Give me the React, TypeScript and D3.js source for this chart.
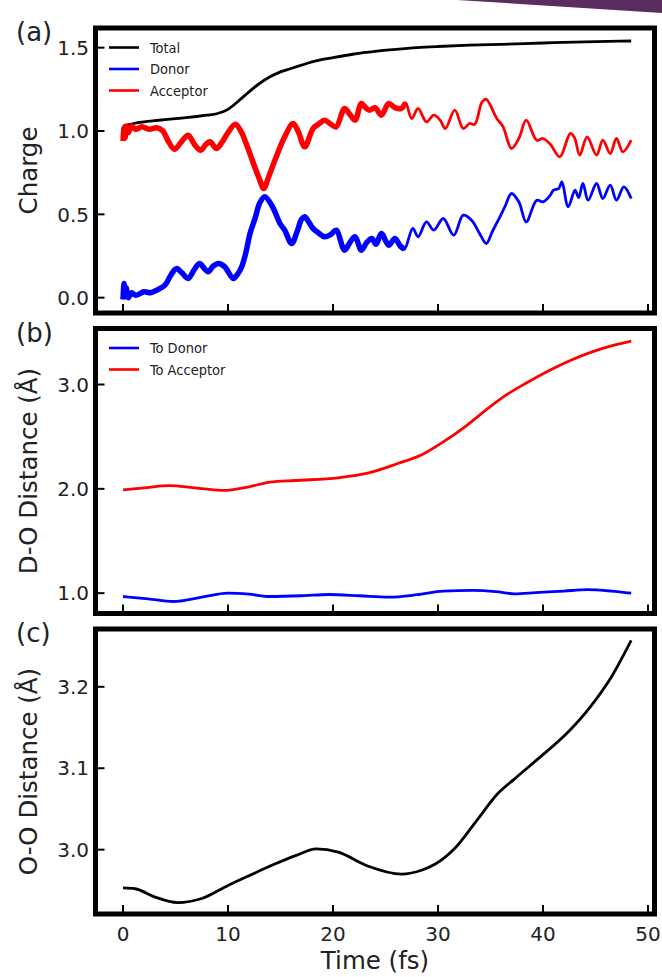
import * as d3 from "d3";

// ---- panel (a) charge ----
const totalT = [0, 1, 2, 3, 4, 5, 6, 7, 8, 9, 10, 11, 12, 13, 14, 15, 16, 17, 18, 20, 22, 24, 26, 28, 30, 33, 36, 40, 44, 48.4];
const totalV = [1.03, 1.045, 1.055, 1.062, 1.068, 1.074, 1.08, 1.087, 1.095, 1.105, 1.13, 1.18, 1.235, 1.285, 1.325, 1.355, 1.375, 1.395, 1.415, 1.44, 1.462, 1.478, 1.49, 1.5, 1.507, 1.515, 1.52, 1.528, 1.535, 1.54];

const accT = [0, 0.1, 0.2, 0.3, 0.5, 0.8, 1.2, 1.8, 2.5, 3.2, 3.8, 4.3, 4.9, 5.5, 6.2, 6.8, 7.4, 7.9, 8.3, 8.9, 9.4, 10, 10.7, 11.3, 11.7, 12.4, 13, 13.4, 13.9, 14.5, 15.4, 16.2, 16.7, 17.3, 18.1, 18.6, 19.2, 19.8, 20.3, 21.1, 21.6, 22.1, 22.7, 23.1, 23.5, 24, 24.6, 25.3, 25.9, 26.5, 26.9, 27.5, 28.1, 28.9, 29.6, 30.2, 30.7, 31.6, 32.4, 33, 33.5, 34.2, 34.6, 35.6, 36.2, 37, 37.7, 38.4, 39.4, 40, 40.7, 41.6, 42.6, 43, 43.5, 44.2, 45.1, 45.7, 46.4, 47, 47.6, 48.4];
const accV = [0.94, 1.02, 0.96, 1.03, 0.99, 1.03, 1.01, 1.025, 1.01, 1.02, 1.0, 0.94, 0.89, 0.93, 0.975, 0.92, 0.885, 0.92, 0.935, 0.895, 0.93, 0.99, 1.04, 0.99, 0.93, 0.81, 0.71, 0.655, 0.73, 0.83, 0.965, 1.045, 0.995, 0.905, 1.015, 1.04, 1.065, 1.04, 1.025, 1.135, 1.1, 1.065, 1.165, 1.14, 1.125, 1.14, 1.095, 1.165, 1.14, 1.135, 1.17, 1.075, 1.135, 1.055, 1.095, 1.065, 1.015, 1.125, 1.015, 1.045, 1.04, 1.175, 1.19, 1.075, 1.025, 0.895, 0.955, 1.065, 0.945, 0.955, 0.92, 0.845, 0.985, 0.96, 0.855, 0.965, 0.855, 0.945, 0.865, 0.955, 0.875, 0.945];

const donT = [0, 0.1, 0.2, 0.3, 0.5, 0.8, 1.2, 2, 2.6, 3.2, 4, 4.6, 5.1, 5.6, 6.2, 6.8, 7.3, 7.8, 8.1, 8.6, 9.1, 9.7, 10.5, 10.9, 11.3, 11.7, 12.1, 12.6, 13, 13.5, 14.2, 14.95, 15.4, 16.06, 16.6, 17, 17.3, 18.1, 18.6, 19.2, 19.8, 20.3, 21.1, 21.6, 22.1, 22.7, 23.2, 23.7, 24.1, 24.6, 25.3, 25.9, 26.4, 26.8, 27.6, 28.1, 28.9, 29.6, 30.5, 31.5, 32.4, 33.2, 34, 34.6, 35.2, 35.9, 36.4, 37, 37.7, 38.4, 39.4, 40, 40.7, 41, 41.5, 41.8, 42.4, 43.05, 43.4, 43.8, 44.3, 45.1, 45.7, 46.4, 47, 47.7, 48.4];
const donV = [-0.01, 0.085, 0.01, 0.06, 0.0, 0.03, 0.015, 0.035, 0.03, 0.045, 0.075, 0.14, 0.175, 0.15, 0.115, 0.17, 0.205, 0.17, 0.155, 0.19, 0.205, 0.185, 0.115, 0.14, 0.185, 0.27, 0.385, 0.48, 0.565, 0.605, 0.55, 0.445, 0.405, 0.325, 0.4, 0.47, 0.485, 0.415, 0.39, 0.365, 0.38, 0.405, 0.285, 0.33, 0.365, 0.285, 0.33, 0.355, 0.32, 0.385, 0.315, 0.355, 0.31, 0.29, 0.415, 0.365, 0.455, 0.405, 0.475, 0.375, 0.495, 0.465, 0.38, 0.325, 0.4, 0.485, 0.55, 0.625, 0.575, 0.455, 0.585, 0.575, 0.615, 0.645, 0.655, 0.695, 0.545, 0.645, 0.6, 0.685, 0.585, 0.685, 0.595, 0.675, 0.585, 0.665, 0.595];

// ---- panel (b) D-O distance ----
const toAccT = [0, 2, 4.4, 6.8, 9.8, 12, 14, 16.4, 20.5, 23.3, 26.1, 28.5, 30.5, 32.5, 34.5, 36.5, 38.5, 40.6, 42.6, 44.6, 46.5, 48.4];
const toAccV = [1.99, 2.01, 2.03, 2.01, 1.985, 2.02, 2.064, 2.08, 2.106, 2.15, 2.24, 2.33, 2.45, 2.59, 2.75, 2.9, 3.02, 3.135, 3.23, 3.31, 3.37, 3.416];
const toDonT = [0, 2.4, 4.8, 7.4, 10, 12, 14, 17, 19.6, 22.5, 25.3, 28, 30.5, 33.3, 35.5, 37.3, 39.3, 42, 44.2, 46.5, 48.4];
const toDonV = [0.968, 0.945, 0.92, 0.96, 1.0, 0.99, 0.968, 0.975, 0.987, 0.975, 0.962, 0.985, 1.02, 1.026, 1.015, 0.994, 1.005, 1.02, 1.033, 1.02, 1.0];

// ---- panel (c) O-O distance ----
const ooT = [0, 1.15, 3, 5.2, 7.5, 10, 12, 14.4, 16.5, 18.4, 20.5, 23.3, 26.5, 28.5, 29.7, 31.7, 33.7, 35.7, 37.3, 39.75, 42.2, 44.6, 46.6, 48.4];
const ooV = [2.953, 2.952, 2.942, 2.935, 2.94, 2.956, 2.968, 2.982, 2.993, 3.001, 2.997, 2.98, 2.97, 2.975, 2.982, 3.003, 3.036, 3.069, 3.087, 3.114, 3.142, 3.177, 3.214, 3.257];

const xTicks = [0, 10, 20, 30, 40, 50];
const yTicksA = [0, 0.5, 1.0, 1.5];
const yTicksB = [1.0, 2.0, 3.0];
const yTicksC = [3.0, 3.1, 3.2];

const zip = (t: number[], v: number[]) => t.map((d, i) => [d, v[i]] as [number, number]);

const FONT = "DejaVu Sans, sans-serif";
const LEGEND_FONT = "DejaVu Sans Condensed, DejaVu Sans, sans-serif";

const left = 95.5;
const right = 654.5;
const x = d3.scaleLinear().domain([-2.62, 50.62]).range([left, right]);

type Series = { pts: [number, number][]; color: string; curve: d3.CurveFactory; heavyUntil?: number };

function Panel(props: {
  top: number;
  bottom: number;
  domain: [number, number];
  yTicks: number[];
  label: string;
  tag: string;
  series: Series[];
  legend: { name: string; color: string }[];
  showX: boolean;
}) {
  const { top, bottom, domain, yTicks, label, tag, series, legend, showX } = props;
  const y = d3.scaleLinear().domain(domain).range([bottom, top]);

  return (
    <g>
      {series.map((s, i) => {
        const line = d3.line<[number, number]>()
          .x((d) => x(d[0]))
          .y((d) => y(d[1]))
          .curve(s.curve);
        return (
          <g key={i}>
            <path d={line(s.pts) ?? ""} fill="none" stroke={s.color} strokeWidth={2.8} strokeLinejoin="round" />
            {s.heavyUntil !== undefined && (
              // raw trace jitters a lot early on, so it reads thicker there
              <path
                d={line(s.pts.filter((d) => d[0] <= s.heavyUntil!)) ?? ""}
                fill="none"
                stroke={s.color}
                strokeWidth={5.5}
                strokeLinejoin="round"
              />
            )}
          </g>
        );
      })}

      {legend.map((l, i) => (
        <g key={l.name} transform={`translate(0, ${top + 19.5 + i * 21.5})`}>
          <line x1={109} x2={139} y1={0} y2={0} stroke={l.color} strokeWidth={2.6} />
          <text x={150} y={0} dy="0.36em" fontFamily={LEGEND_FONT} fontSize={14.5} fill="#222">
            {l.name}
          </text>
        </g>
      ))}

      {/* ticks */}
      {xTicks.map((v) => (
        <line key={"x" + v} x1={x(v)} x2={x(v)} y1={bottom} y2={bottom - 9} stroke="#000" strokeWidth={2} />
      ))}
      {yTicks.map((v) => (
        <g key={"y" + v}>
          <line x1={left} x2={left + 9} y1={y(v)} y2={y(v)} stroke="#000" strokeWidth={2} />
          <text x={89} y={y(v)} dy="0.36em" textAnchor="end" fontFamily={FONT} fontSize={20} fill="#222">
            {v.toFixed(1)}
          </text>
        </g>
      ))}
      {showX &&
        xTicks.map((v) => (
          <text key={"xl" + v} x={x(v)} y={941} textAnchor="middle" fontFamily={FONT} fontSize={20} fill="#222">
            {v}
          </text>
        ))}

      {/* frame */}
      <rect x={left} y={top} width={right - left} height={bottom - top} fill="none" stroke="#000" strokeWidth={5} />

      <text
        transform={`translate(37, ${(top + bottom) / 2}) rotate(-90)`}
        textAnchor="middle"
        fontFamily={FONT}
        fontSize={24.5}
        fill="#222"
      >
        {label}
      </text>
      <text x={16} y={top + 13} fontFamily={FONT} fontSize={26} fill="#222">
        {tag}
      </text>
    </g>
  );
}

export default function App() {
  const width = 662;
  const height = 977;
  const jitter = d3.curveCatmullRom.alpha(0.5);

  return (
    <svg width={width} height={height} style={{ position: "absolute", left: 0, top: 0, background: "#fff" }}>
      <rect width={width} height={height} fill="#fff" />
      <polygon points="457,0 662,0 662,13" fill="#5b2c5f" />

      <Panel
        top={28}
        bottom={313}
        domain={[-0.092, 1.618]}
        yTicks={yTicksA}
        label="Charge"
        tag="(a)"
        showX={false}
        series={[
          { pts: zip(totalT, totalV), color: "#000", curve: d3.curveMonotoneX },
          { pts: zip(donT, donV), color: "#0000ff", curve: jitter, heavyUntil: 27 },
          { pts: zip(accT, accV), color: "#ff0000", curve: jitter, heavyUntil: 27 },
        ]}
        legend={[
          { name: "Total", color: "#000" },
          { name: "Donor", color: "#0000ff" },
          { name: "Acceptor", color: "#ff0000" },
        ]}
      />
      <Panel
        top={328.5}
        bottom={613.5}
        domain={[0.805, 3.537]}
        yTicks={yTicksB}
        label="D-O Distance (Å)"
        tag="(b)"
        showX={false}
        series={[
          { pts: zip(toDonT, toDonV), color: "#0000ff", curve: d3.curveMonotoneX },
          { pts: zip(toAccT, toAccV), color: "#ff0000", curve: d3.curveMonotoneX },
        ]}
        legend={[
          { name: "To Donor", color: "#0000ff" },
          { name: "To Acceptor", color: "#ff0000" },
        ]}
      />
      <Panel
        top={629}
        bottom={914}
        domain={[2.921, 3.271]}
        yTicks={yTicksC}
        label="O-O Distance (Å)"
        tag="(c)"
        showX={true}
        series={[{ pts: zip(ooT, ooV), color: "#000", curve: d3.curveMonotoneX }]}
        legend={[]}
      />

      <text x={(left + right) / 2} y={969} textAnchor="middle" fontFamily={FONT} fontSize={24.5} fill="#222">
        Time (fs)
      </text>
    </svg>
  );
}
